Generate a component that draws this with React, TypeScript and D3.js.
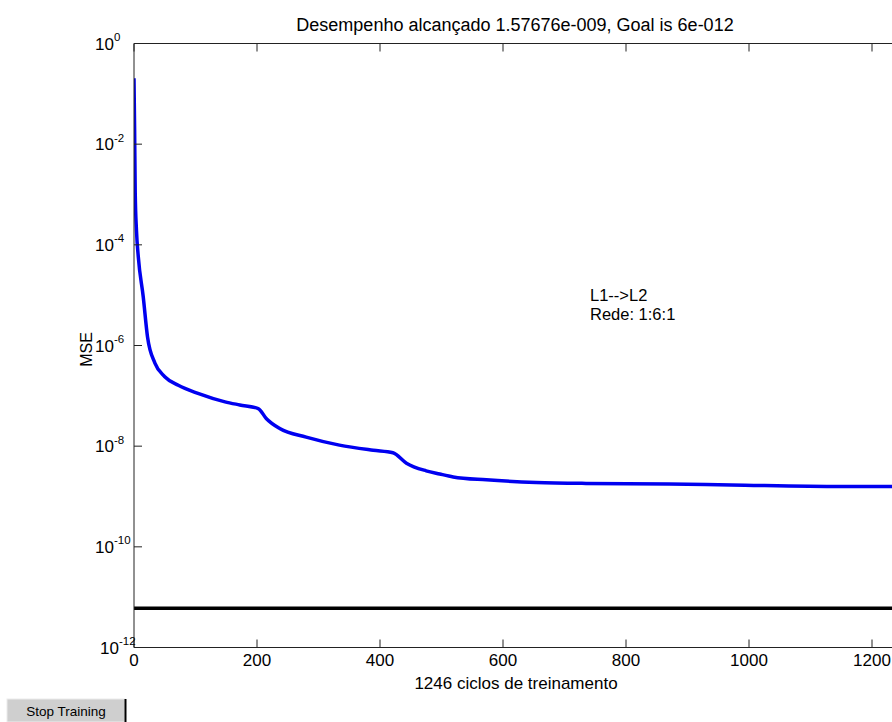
import React from "react";
import * as d3 from "d3";

// ---- data ----
const epochs = [0, 1, 2, 4, 7, 15, 22, 34, 50, 72, 104, 148, 172, 202, 215, 237, 280, 334, 389, 421, 443, 475, 497, 519, 573, 654, 735, 870, 971, 1150, 1246];
const mseValues = [0.204, 0.019, 1.07e-3, 1.95e-4, 5.75e-5, 9.3e-6, 1.48e-6, 4.47e-7, 2.4e-7, 1.62e-7, 1.12e-7, 7.6e-8, 6.6e-8, 5.6e-8, 3.55e-8, 2.24e-8, 1.51e-8, 1.05e-8, 8.3e-9, 7.4e-9, 4.6e-9, 3.24e-9, 2.8e-9, 2.45e-9, 2.14e-9, 1.9e-9, 1.82e-9, 1.78e-9, 1.7e-9, 1.58e-9, 1.577e-9];
const goalValue = 6e-12;
const totalEpochs = 1246;
const xTicks = [0, 200, 400, 600, 800, 1000, 1200];
const yTickExps = [0, -2, -4, -6, -8, -10, -12];
const titleText = "Desempenho alcançado 1.57676e-009, Goal is 6e-012";
const xLabelText = "1246 ciclos de treinamento";
const yLabelText = "MSE";
const annotationLines = ["L1-->L2", "Rede: 1:6:1"];
const buttonText = "Stop Training";

const W = 892;
const H = 722;
const FONT = "'Liberation Sans', Arial, Helvetica, sans-serif";

export default function App() {
  const left = 134;
  const right = 900.3;
  const top = 43.5;
  const bottom = 647.5;
  const x = d3.scaleLinear().domain([0, totalEpochs]).range([left, right]);
  const y = d3.scaleLog().domain([1e-12, 1]).range([bottom, top]);
  const line = d3
    .line<number>()
    .x((_, i) => x(epochs[i]))
    .y((d) => y(d))
    .curve(d3.curveMonotoneX);
  const path = line(mseValues) || "";
  const tickLen = 8;

  return (
    <svg
      width={W}
      height={H}
      style={{ position: "absolute", left: 0, top: 0, background: "#fff" }}
      fontFamily={FONT}
    >
      <defs>
        <clipPath id="plotClip">
          <rect x={left} y={top - 2} width={right - left} height={bottom - top + 4} />
        </clipPath>
      </defs>
      <rect x={0} y={0} width={W} height={H} fill="#fff" />

      {/* title */}
      <text x={515} y={31} fontSize={18} textAnchor="middle" fill="#000">
        {titleText}
      </text>

      {/* goal line */}
      <line
        x1={left}
        x2={right}
        y1={y(goalValue)}
        y2={y(goalValue)}
        stroke="#000"
        strokeWidth={3.5}
        clipPath="url(#plotClip)"
      />

      {/* performance curve */}
      <path
        d={path}
        fill="none"
        stroke="#0000f0"
        strokeWidth={3.5}
        strokeLinejoin="round"
        clipPath="url(#plotClip)"
      />

      {/* axes box */}
      <g stroke="#222" strokeWidth={1} fill="none">
        <line x1={left} x2={left} y1={top} y2={bottom} />
        <line x1={right} x2={right} y1={top} y2={bottom} />
        <line x1={left} x2={right} y1={top} y2={top} />
        <line x1={left} x2={right} y1={bottom} y2={bottom} />
        {xTicks.map((t) => (
          <g key={"xt" + t}>
            <line x1={x(t)} x2={x(t)} y1={bottom} y2={bottom - tickLen} />
            <line x1={x(t)} x2={x(t)} y1={top} y2={top + tickLen} />
          </g>
        ))}
        {yTickExps.map((e) => (
          <g key={"yt" + e}>
            <line x1={left} x2={left + tickLen} y1={y(Math.pow(10, e))} y2={y(Math.pow(10, e))} />
            <line x1={right} x2={right - tickLen} y1={y(Math.pow(10, e))} y2={y(Math.pow(10, e))} />
          </g>
        ))}
      </g>

      {/* x tick labels */}
      {xTicks.map((t) => (
        <text key={"xl" + t} x={x(t)} y={666} fontSize={17} textAnchor="middle" fill="#000">
          {t}
        </text>
      ))}

      {/* y tick labels */}
      {yTickExps.map((e) => (
        <text
          key={"yl" + e}
          x={e === -12 ? 100 : 95}
          y={y(Math.pow(10, e)) + 6}
          fontSize={17}
          fill="#000"
        >
          10
          <tspan fontSize={11.5} dy={-8.5}>
            {String(e)}
          </tspan>
        </text>
      ))}

      {/* x label */}
      <text x={516} y={689} fontSize={17} textAnchor="middle" fill="#000">
        {xLabelText}
      </text>

      {/* y label */}
      <text
        transform={`translate(92, ${y(1e-6) + 4}) rotate(-90)`}
        fontSize={16}
        textAnchor="middle"
        fill="#000"
      >
        {yLabelText}
      </text>

      {/* annotation */}
      {annotationLines.map((s, i) => (
        <text key={"an" + i} x={590} y={301 + i * 19} fontSize={16.5} fill="#000">
          {s}
        </text>
      ))}

      {/* Stop Training button */}
      <g>
        <rect x={7} y={699} width={118} height={23} fill="#cfcfcf" stroke="#ececec" strokeWidth={1} />
        <line x1={125.5} x2={125.5} y1={699} y2={722} stroke="#000" strokeWidth={2} />
        <text x={66} y={716} fontSize={13.5} textAnchor="middle" fill="#000">
          {buttonText}
        </text>
      </g>
    </svg>
  );
}
